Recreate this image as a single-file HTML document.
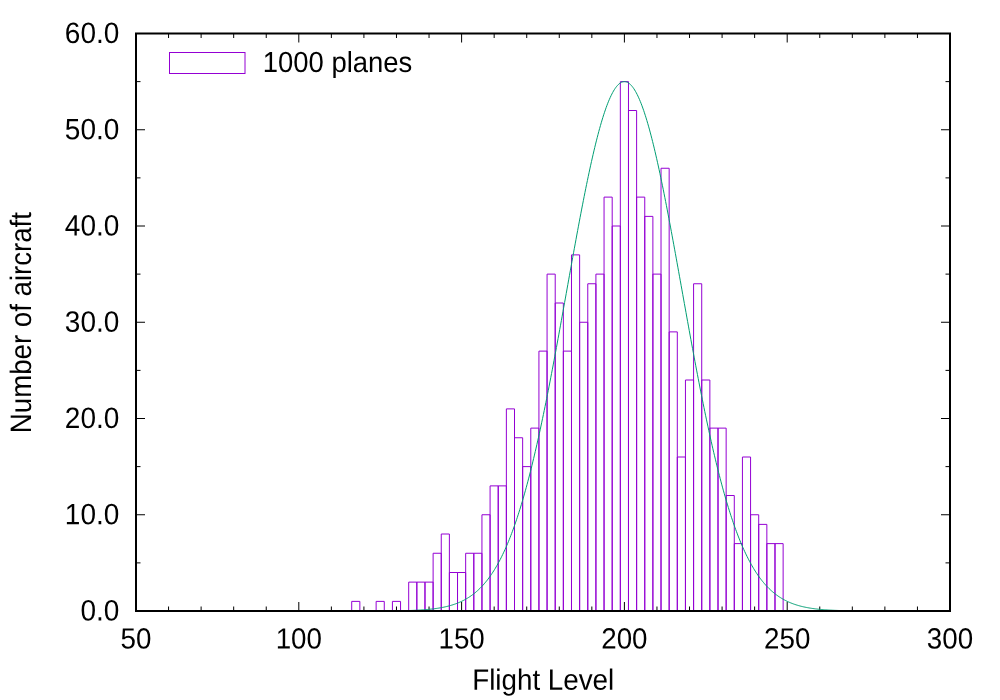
<!DOCTYPE html>
<html lang="en"><head><meta charset="utf-8"><title>Flight Level histogram</title>
<style>html,body{margin:0;padding:0;background:#fff}body{width:1000px;height:700px;overflow:hidden}svg{display:block}text{font-family:"Liberation Sans",sans-serif;font-size:28px;fill:#000}</style>
</head><body>
<svg width="1000" height="700" viewBox="0 0 1000 700">
<rect x="0" y="0" width="1000" height="700" fill="#fff"/>
<g stroke="#000" stroke-width="1" fill="none">
<path d="M136.00 611.00h9.00M950.00 611.00h-9.00"/>
<path d="M136.00 562.88h4.50M950.00 562.88h-4.50"/>
<path d="M136.00 514.75h9.00M950.00 514.75h-9.00"/>
<path d="M136.00 466.62h4.50M950.00 466.62h-4.50"/>
<path d="M136.00 418.50h9.00M950.00 418.50h-9.00"/>
<path d="M136.00 370.38h4.50M950.00 370.38h-4.50"/>
<path d="M136.00 322.25h9.00M950.00 322.25h-9.00"/>
<path d="M136.00 274.12h4.50M950.00 274.12h-4.50"/>
<path d="M136.00 226.00h9.00M950.00 226.00h-9.00"/>
<path d="M136.00 177.88h4.50M950.00 177.88h-4.50"/>
<path d="M136.00 129.75h9.00M950.00 129.75h-9.00"/>
<path d="M136.00 81.62h4.50M950.00 81.62h-4.50"/>
<path d="M136.00 33.50h9.00M950.00 33.50h-9.00"/>
<path d="M136.00 611.00v-9.00M136.00 33.50v9.00"/>
<path d="M168.56 611.00v-4.50M168.56 33.50v4.50"/>
<path d="M201.12 611.00v-4.50M201.12 33.50v4.50"/>
<path d="M233.68 611.00v-4.50M233.68 33.50v4.50"/>
<path d="M266.24 611.00v-4.50M266.24 33.50v4.50"/>
<path d="M298.80 611.00v-9.00M298.80 33.50v9.00"/>
<path d="M331.36 611.00v-4.50M331.36 33.50v4.50"/>
<path d="M363.92 611.00v-4.50M363.92 33.50v4.50"/>
<path d="M396.48 611.00v-4.50M396.48 33.50v4.50"/>
<path d="M429.04 611.00v-4.50M429.04 33.50v4.50"/>
<path d="M461.60 611.00v-9.00M461.60 33.50v9.00"/>
<path d="M494.16 611.00v-4.50M494.16 33.50v4.50"/>
<path d="M526.72 611.00v-4.50M526.72 33.50v4.50"/>
<path d="M559.28 611.00v-4.50M559.28 33.50v4.50"/>
<path d="M591.84 611.00v-4.50M591.84 33.50v4.50"/>
<path d="M624.40 611.00v-9.00M624.40 33.50v9.00"/>
<path d="M656.96 611.00v-4.50M656.96 33.50v4.50"/>
<path d="M689.52 611.00v-4.50M689.52 33.50v4.50"/>
<path d="M722.08 611.00v-4.50M722.08 33.50v4.50"/>
<path d="M754.64 611.00v-4.50M754.64 33.50v4.50"/>
<path d="M787.20 611.00v-9.00M787.20 33.50v9.00"/>
<path d="M819.76 611.00v-4.50M819.76 33.50v4.50"/>
<path d="M852.32 611.00v-4.50M852.32 33.50v4.50"/>
<path d="M884.88 611.00v-4.50M884.88 33.50v4.50"/>
<path d="M917.44 611.00v-4.50M917.44 33.50v4.50"/>
<path d="M950.00 611.00v-9.00M950.00 33.50v9.00"/>
</g>
<g text-anchor="end">
<text transform="translate(119.3,620.60) rotate(0.03) scale(1,1.055)">0.0</text>
<text transform="translate(119.3,524.35) rotate(0.03) scale(1,1.055)">10.0</text>
<text transform="translate(119.3,428.10) rotate(0.03) scale(1,1.055)">20.0</text>
<text transform="translate(119.3,331.85) rotate(0.03) scale(1,1.055)">30.0</text>
<text transform="translate(119.3,235.60) rotate(0.03) scale(1,1.055)">40.0</text>
<text transform="translate(119.3,139.35) rotate(0.03) scale(1,1.055)">50.0</text>
<text transform="translate(119.3,43.10) rotate(0.03) scale(1,1.055)">60.0</text>
</g>
<g text-anchor="middle">
<text transform="translate(136.00,648.5) rotate(0.03) scale(0.99,1.045)">50</text>
<text transform="translate(298.80,648.5) rotate(0.03) scale(0.99,1.045)">100</text>
<text transform="translate(461.60,648.5) rotate(0.03) scale(0.99,1.045)">150</text>
<text transform="translate(624.40,648.5) rotate(0.03) scale(0.99,1.045)">200</text>
<text transform="translate(787.20,648.5) rotate(0.03) scale(0.99,1.045)">250</text>
<text transform="translate(950.00,648.5) rotate(0.03) scale(0.99,1.045)">300</text>
</g>
<text transform="translate(262.8,72.0) rotate(0.03) scale(0.98,1.035)">1000 planes</text>
<rect x="169.5" y="52.5" width="75.5" height="21" fill="none" stroke="#9400d3" stroke-width="1"/>
<g fill="none" stroke="#9400d3" stroke-width="1">
<path d="M351.71 611.00V601.38H359.85V611.00Z"/>
<path d="M376.13 611.00V601.38H384.27V611.00Z"/>
<path d="M392.41 611.00V601.38H400.55V611.00Z"/>
<path d="M408.69 611.00V582.12H416.83V611.00Z"/>
<path d="M416.83 611.00V582.12H424.97V611.00Z"/>
<path d="M424.97 611.00V582.12H433.11V611.00Z"/>
<path d="M433.11 611.00V553.25H441.25V611.00Z"/>
<path d="M441.25 611.00V534.00H449.39V611.00Z"/>
<path d="M449.39 611.00V572.50H457.53V611.00Z"/>
<path d="M457.53 611.00V572.50H465.67V611.00Z"/>
<path d="M465.67 611.00V553.25H473.81V611.00Z"/>
<path d="M473.81 611.00V553.25H481.95V611.00Z"/>
<path d="M481.95 611.00V514.75H490.09V611.00Z"/>
<path d="M490.09 611.00V485.88H498.23V611.00Z"/>
<path d="M498.23 611.00V485.88H506.37V611.00Z"/>
<path d="M506.37 611.00V408.88H514.51V611.00Z"/>
<path d="M514.51 611.00V437.75H522.65V611.00Z"/>
<path d="M522.65 611.00V466.62H530.79V611.00Z"/>
<path d="M530.79 611.00V428.12H538.93V611.00Z"/>
<path d="M538.93 611.00V351.12H547.07V611.00Z"/>
<path d="M547.07 611.00V274.12H555.21V611.00Z"/>
<path d="M555.21 611.00V303.00H563.35V611.00Z"/>
<path d="M563.35 611.00V351.12H571.49V611.00Z"/>
<path d="M571.49 611.00V254.88H579.63V611.00Z"/>
<path d="M579.63 611.00V322.25H587.77V611.00Z"/>
<path d="M587.77 611.00V283.75H595.91V611.00Z"/>
<path d="M595.91 611.00V274.12H604.05V611.00Z"/>
<path d="M604.05 611.00V197.12H612.19V611.00Z"/>
<path d="M612.19 611.00V226.00H620.33V611.00Z"/>
<path d="M620.33 611.00V81.62H628.47V611.00Z"/>
<path d="M628.47 611.00V110.50H636.61V611.00Z"/>
<path d="M636.61 611.00V197.12H644.75V611.00Z"/>
<path d="M644.75 611.00V216.38H652.89V611.00Z"/>
<path d="M652.89 611.00V274.12H661.03V611.00Z"/>
<path d="M661.03 611.00V168.25H669.17V611.00Z"/>
<path d="M669.17 611.00V331.88H677.31V611.00Z"/>
<path d="M677.31 611.00V457.00H685.45V611.00Z"/>
<path d="M685.45 611.00V380.00H693.59V611.00Z"/>
<path d="M693.59 611.00V283.75H701.73V611.00Z"/>
<path d="M701.73 611.00V380.00H709.87V611.00Z"/>
<path d="M709.87 611.00V428.12H718.01V611.00Z"/>
<path d="M718.01 611.00V428.12H726.15V611.00Z"/>
<path d="M726.15 611.00V495.50H734.29V611.00Z"/>
<path d="M734.29 611.00V543.62H742.43V611.00Z"/>
<path d="M742.43 611.00V457.00H750.57V611.00Z"/>
<path d="M750.57 611.00V514.75H758.71V611.00Z"/>
<path d="M758.71 611.00V524.38H766.85V611.00Z"/>
<path d="M766.85 611.00V543.62H774.99V611.00Z"/>
<path d="M774.99 611.00V543.62H783.13V611.00Z"/>
</g>
<polyline fill="none" stroke="#009e73" stroke-width="1" stroke-linejoin="round" points="136.00,611.00 136.81,611.00 137.63,611.00 138.44,611.00 139.26,611.00 140.07,611.00 140.89,611.00 141.70,611.00 142.52,611.00 143.33,611.00 144.15,611.00 144.96,611.00 145.78,611.00 146.59,611.00 147.41,611.00 148.22,611.00 149.04,611.00 149.85,611.00 150.67,611.00 151.48,611.00 152.30,611.00 153.11,611.00 153.93,611.00 154.74,611.00 155.56,611.00 156.37,611.00 157.19,611.00 158.00,611.00 158.81,611.00 159.63,611.00 160.44,611.00 161.26,611.00 162.07,611.00 162.89,611.00 163.70,611.00 164.52,611.00 165.33,611.00 166.15,611.00 166.96,611.00 167.78,611.00 168.59,611.00 169.41,611.00 170.22,611.00 171.04,611.00 171.85,611.00 172.67,611.00 173.48,611.00 174.30,611.00 175.11,611.00 175.93,611.00 176.74,611.00 177.56,611.00 178.37,611.00 179.19,611.00 180.00,611.00 180.81,611.00 181.63,611.00 182.44,611.00 183.26,611.00 184.07,611.00 184.89,611.00 185.70,611.00 186.52,611.00 187.33,611.00 188.15,611.00 188.96,611.00 189.78,611.00 190.59,611.00 191.41,611.00 192.22,611.00 193.04,611.00 193.85,611.00 194.67,611.00 195.48,611.00 196.30,611.00 197.11,611.00 197.93,611.00 198.74,611.00 199.56,611.00 200.37,611.00 201.19,611.00 202.00,611.00 202.81,611.00 203.63,611.00 204.44,611.00 205.26,611.00 206.07,611.00 206.89,611.00 207.70,611.00 208.52,611.00 209.33,611.00 210.15,611.00 210.96,611.00 211.78,611.00 212.59,611.00 213.41,611.00 214.22,611.00 215.04,611.00 215.85,611.00 216.67,611.00 217.48,611.00 218.30,611.00 219.11,611.00 219.93,611.00 220.74,611.00 221.56,611.00 222.37,611.00 223.19,611.00 224.00,611.00 224.81,611.00 225.63,611.00 226.44,611.00 227.26,611.00 228.07,611.00 228.89,611.00 229.70,611.00 230.52,611.00 231.33,611.00 232.15,611.00 232.96,611.00 233.78,611.00 234.59,611.00 235.41,611.00 236.22,611.00 237.04,611.00 237.85,611.00 238.67,611.00 239.48,611.00 240.30,611.00 241.11,611.00 241.93,611.00 242.74,611.00 243.56,611.00 244.37,611.00 245.19,611.00 246.00,611.00 246.81,611.00 247.63,611.00 248.44,611.00 249.26,611.00 250.07,611.00 250.89,611.00 251.70,611.00 252.52,611.00 253.33,611.00 254.15,611.00 254.96,611.00 255.78,611.00 256.59,611.00 257.41,611.00 258.22,611.00 259.04,611.00 259.85,611.00 260.67,611.00 261.48,611.00 262.30,611.00 263.11,611.00 263.93,611.00 264.74,611.00 265.56,611.00 266.37,611.00 267.19,611.00 268.00,611.00 268.81,611.00 269.63,611.00 270.44,611.00 271.26,611.00 272.07,611.00 272.89,611.00 273.70,611.00 274.52,611.00 275.33,611.00 276.15,611.00 276.96,611.00 277.78,611.00 278.59,611.00 279.41,611.00 280.22,611.00 281.04,611.00 281.85,611.00 282.67,611.00 283.48,611.00 284.30,611.00 285.11,611.00 285.93,611.00 286.74,611.00 287.56,611.00 288.37,611.00 289.19,611.00 290.00,611.00 290.81,611.00 291.63,611.00 292.44,611.00 293.26,611.00 294.07,611.00 294.89,611.00 295.70,611.00 296.52,611.00 297.33,611.00 298.15,611.00 298.96,611.00 299.78,611.00 300.59,611.00 301.41,611.00 302.22,611.00 303.04,611.00 303.85,611.00 304.67,611.00 305.48,611.00 306.30,611.00 307.11,611.00 307.93,611.00 308.74,611.00 309.56,611.00 310.37,611.00 311.19,611.00 312.00,611.00 312.81,611.00 313.63,611.00 314.44,611.00 315.26,611.00 316.07,611.00 316.89,611.00 317.70,611.00 318.52,611.00 319.33,611.00 320.15,611.00 320.96,611.00 321.78,611.00 322.59,611.00 323.41,611.00 324.22,611.00 325.04,611.00 325.85,611.00 326.67,611.00 327.48,611.00 328.30,611.00 329.11,611.00 329.93,611.00 330.74,611.00 331.56,611.00 332.37,611.00 333.19,611.00 334.00,611.00 334.81,611.00 335.63,611.00 336.44,611.00 337.26,611.00 338.07,611.00 338.89,611.00 339.70,611.00 340.52,611.00 341.33,611.00 342.15,611.00 342.96,611.00 343.78,611.00 344.59,611.00 345.41,611.00 346.22,611.00 347.04,611.00 347.85,610.99 348.67,610.99 349.48,610.99 350.30,610.99 351.11,610.99 351.93,610.99 352.74,610.99 353.56,610.99 354.37,610.99 355.19,610.99 356.00,610.99 356.81,610.99 357.63,610.99 358.44,610.99 359.26,610.99 360.07,610.99 360.89,610.99 361.70,610.98 362.52,610.98 363.33,610.98 364.15,610.98 364.96,610.98 365.78,610.98 366.59,610.98 367.41,610.98 368.22,610.97 369.04,610.97 369.85,610.97 370.67,610.97 371.48,610.97 372.30,610.96 373.11,610.96 373.93,610.96 374.74,610.96 375.56,610.95 376.37,610.95 377.19,610.95 378.00,610.94 378.81,610.94 379.63,610.94 380.44,610.93 381.26,610.93 382.07,610.93 382.89,610.92 383.70,610.92 384.52,610.91 385.33,610.91 386.15,610.90 386.96,610.89 387.78,610.89 388.59,610.88 389.41,610.87 390.22,610.87 391.04,610.86 391.85,610.85 392.67,610.84 393.48,610.83 394.30,610.82 395.11,610.81 395.93,610.80 396.74,610.79 397.56,610.78 398.37,610.76 399.19,610.75 400.00,610.74 400.81,610.72 401.63,610.71 402.44,610.69 403.26,610.67 404.07,610.65 404.89,610.63 405.70,610.61 406.52,610.59 407.33,610.57 408.15,610.55 408.96,610.52 409.78,610.50 410.59,610.47 411.41,610.44 412.22,610.41 413.04,610.38 413.85,610.35 414.67,610.31 415.48,610.27 416.30,610.24 417.11,610.20 417.93,610.15 418.74,610.11 419.56,610.06 420.37,610.02 421.19,609.97 422.00,609.91 422.81,609.86 423.63,609.80 424.44,609.74 425.26,609.68 426.07,609.61 426.89,609.54 427.70,609.47 428.52,609.39 429.33,609.31 430.15,609.23 430.96,609.14 431.78,609.05 432.59,608.96 433.41,608.86 434.22,608.76 435.04,608.65 435.85,608.54 436.67,608.42 437.48,608.30 438.30,608.17 439.11,608.04 439.93,607.90 440.74,607.76 441.56,607.61 442.37,607.45 443.19,607.29 444.00,607.12 444.81,606.94 445.63,606.76 446.44,606.57 447.26,606.37 448.07,606.17 448.89,605.95 449.70,605.73 450.52,605.50 451.33,605.26 452.15,605.01 452.96,604.75 453.78,604.48 454.59,604.21 455.41,603.92 456.22,603.62 457.04,603.30 457.85,602.98 458.67,602.65 459.48,602.30 460.30,601.94 461.11,601.57 461.93,601.18 462.74,600.78 463.56,600.37 464.37,599.94 465.19,599.50 466.00,599.04 466.81,598.56 467.63,598.07 468.44,597.57 469.26,597.04 470.07,596.50 470.89,595.94 471.70,595.36 472.52,594.76 473.33,594.15 474.15,593.51 474.96,592.85 475.78,592.18 476.59,591.48 477.41,590.75 478.22,590.01 479.04,589.24 479.85,588.45 480.67,587.64 481.48,586.80 482.30,585.94 483.11,585.05 483.93,584.13 484.74,583.19 485.56,582.22 486.37,581.22 487.19,580.19 488.00,579.14 488.81,578.05 489.63,576.94 490.44,575.79 491.26,574.62 492.07,573.41 492.89,572.17 493.70,570.90 494.52,569.59 495.33,568.25 496.15,566.87 496.96,565.46 497.78,564.01 498.59,562.53 499.41,561.01 500.22,559.46 501.04,557.86 501.85,556.23 502.67,554.56 503.48,552.84 504.30,551.09 505.11,549.30 505.93,547.47 506.74,545.60 507.56,543.68 508.37,541.72 509.19,539.72 510.00,537.68 510.81,535.59 511.63,533.46 512.44,531.29 513.26,529.07 514.07,526.81 514.89,524.50 515.70,522.14 516.52,519.74 517.33,517.30 518.15,514.80 518.96,512.26 519.78,509.68 520.59,507.05 521.41,504.37 522.22,501.64 523.04,498.86 523.85,496.04 524.67,493.17 525.48,490.26 526.30,487.29 527.11,484.28 527.93,481.22 528.74,478.12 529.56,474.97 530.37,471.77 531.19,468.52 532.00,465.23 532.81,461.89 533.63,458.50 534.44,455.07 535.26,451.60 536.07,448.08 536.89,444.51 537.70,440.91 538.52,437.25 539.33,433.56 540.15,429.82 540.96,426.05 541.78,422.23 542.59,418.37 543.41,414.47 544.22,410.53 545.04,406.56 545.85,402.54 546.67,398.49 547.48,394.41 548.30,390.29 549.11,386.14 549.93,381.96 550.74,377.74 551.56,373.50 552.37,369.23 553.19,364.93 554.00,360.60 554.81,356.25 555.63,351.87 556.44,347.48 557.26,343.06 558.07,338.62 558.89,334.16 559.70,329.69 560.52,325.20 561.33,320.70 562.15,316.19 562.96,311.67 563.78,307.14 564.59,302.60 565.41,298.06 566.22,293.51 567.04,288.97 567.85,284.42 568.67,279.87 569.48,275.33 570.30,270.80 571.11,266.27 571.93,261.76 572.74,257.25 573.56,252.76 574.37,248.28 575.19,243.83 576.00,239.39 576.81,234.97 577.63,230.58 578.44,226.21 579.26,221.88 580.07,217.57 580.89,213.29 581.70,209.05 582.52,204.84 583.33,200.67 584.15,196.55 584.96,192.46 585.78,188.42 586.59,184.43 587.41,180.48 588.22,176.59 589.04,172.75 589.85,168.96 590.67,165.23 591.48,161.56 592.30,157.94 593.11,154.40 593.93,150.91 594.74,147.49 595.56,144.14 596.37,140.86 597.19,137.66 598.00,134.52 598.81,131.46 599.63,128.48 600.44,125.58 601.26,122.76 602.07,120.02 602.89,117.36 603.70,114.79 604.52,112.31 605.33,109.91 606.15,107.60 606.96,105.39 607.78,103.26 608.59,101.23 609.41,99.30 610.22,97.46 611.04,95.71 611.85,94.07 612.67,92.52 613.48,91.07 614.30,89.73 615.11,88.48 615.93,87.34 616.74,86.30 617.56,85.36 618.37,84.52 619.19,83.80 620.00,83.17 620.81,82.65 621.63,82.24 622.44,81.93 623.26,81.73 624.07,81.63 624.89,81.64 625.70,81.76 626.52,81.98 627.33,82.31 628.15,82.75 628.96,83.29 629.78,83.93 630.59,84.68 631.41,85.54 632.22,86.50 633.04,87.56 633.85,88.72 634.67,89.99 635.48,91.35 636.30,92.82 637.11,94.39 637.93,96.05 638.74,97.82 639.56,99.68 640.37,101.63 641.19,103.68 642.00,105.82 642.81,108.06 643.63,110.38 644.44,112.80 645.26,115.30 646.07,117.89 646.89,120.56 647.70,123.32 648.52,126.15 649.33,129.07 650.15,132.07 650.96,135.14 651.78,138.29 652.59,141.51 653.41,144.81 654.22,148.17 655.04,151.60 655.85,155.10 656.67,158.66 657.48,162.29 658.30,165.97 659.11,169.71 659.93,173.51 660.74,177.36 661.56,181.27 662.37,185.22 663.19,189.23 664.00,193.28 664.81,197.37 665.63,201.50 666.44,205.68 667.26,209.89 668.07,214.14 668.89,218.43 669.70,222.74 670.52,227.09 671.33,231.46 672.15,235.85 672.96,240.28 673.78,244.72 674.59,249.18 675.41,253.66 676.22,258.15 677.04,262.66 677.85,267.18 678.67,271.71 679.48,276.24 680.30,280.78 681.11,285.33 681.93,289.88 682.74,294.42 683.56,298.97 684.37,303.51 685.19,308.05 686.00,312.57 686.81,317.10 687.63,321.61 688.44,326.10 689.26,330.59 690.07,335.06 690.89,339.51 691.70,343.94 692.52,348.36 693.33,352.75 694.15,357.12 694.96,361.47 695.78,365.79 696.59,370.08 697.41,374.35 698.22,378.59 699.04,382.80 699.85,386.98 700.67,391.12 701.48,395.23 702.30,399.31 703.11,403.35 703.93,407.35 704.74,411.32 705.56,415.25 706.37,419.14 707.19,422.99 708.00,426.80 708.81,430.57 709.63,434.30 710.44,437.99 711.26,441.63 712.07,445.23 712.89,448.79 713.70,452.30 714.52,455.76 715.33,459.18 716.15,462.56 716.96,465.89 717.78,469.17 718.59,472.41 719.41,475.60 720.22,478.74 721.04,481.84 721.85,484.89 722.67,487.89 723.48,490.84 724.30,493.75 725.11,496.61 725.93,499.42 726.74,502.19 727.56,504.90 728.37,507.58 729.19,510.20 730.00,512.78 730.81,515.31 731.63,517.79 732.44,520.23 733.26,522.62 734.07,524.96 734.89,527.26 735.70,529.52 736.52,531.73 737.33,533.89 738.15,536.02 738.96,538.09 739.78,540.13 740.59,542.12 741.41,544.07 742.22,545.97 743.04,547.84 743.85,549.66 744.67,551.45 745.48,553.19 746.30,554.89 747.11,556.56 747.93,558.18 748.74,559.77 749.56,561.32 750.37,562.83 751.19,564.31 752.00,565.75 752.81,567.15 753.63,568.52 754.44,569.85 755.26,571.15 756.07,572.42 756.89,573.65 757.70,574.86 758.52,576.03 759.33,577.17 760.15,578.27 760.96,579.35 761.78,580.40 762.59,581.42 763.41,582.41 764.22,583.38 765.04,584.32 765.85,585.23 766.67,586.11 767.48,586.97 768.30,587.80 769.11,588.61 769.93,589.40 770.74,590.16 771.56,590.90 772.37,591.62 773.19,592.31 774.00,592.99 774.81,593.64 775.63,594.27 776.44,594.89 777.26,595.48 778.07,596.05 778.89,596.61 779.70,597.15 780.52,597.67 781.33,598.17 782.15,598.66 782.96,599.13 783.78,599.59 784.59,600.03 785.41,600.45 786.22,600.86 787.04,601.26 787.85,601.64 788.67,602.01 789.48,602.37 790.30,602.71 791.11,603.05 791.93,603.37 792.74,603.68 793.56,603.97 794.37,604.26 795.19,604.54 796.00,604.81 796.81,605.06 797.63,605.31 798.44,605.55 799.26,605.78 800.07,606.00 800.89,606.21 801.70,606.41 802.52,606.61 803.33,606.80 804.15,606.98 804.96,607.15 805.78,607.32 806.59,607.48 807.41,607.64 808.22,607.79 809.04,607.93 809.85,608.07 810.67,608.20 811.48,608.32 812.30,608.44 813.11,608.56 813.93,608.67 814.74,608.78 815.56,608.88 816.37,608.98 817.19,609.07 818.00,609.16 818.81,609.25 819.63,609.33 820.44,609.41 821.26,609.48 822.07,609.55 822.89,609.62 823.70,609.69 824.52,609.75 825.33,609.81 826.15,609.87 826.96,609.92 827.78,609.98 828.59,610.03 829.41,610.07 830.22,610.12 831.04,610.16 831.85,610.20 832.67,610.24 833.48,610.28 834.30,610.32 835.11,610.35 835.93,610.39 836.74,610.42 837.56,610.45 838.37,610.47 839.19,610.50 840.00,610.53 840.81,610.55 841.63,610.58 842.44,610.60 843.26,610.62 844.07,610.64 844.89,610.66 845.70,610.68 846.52,610.69 847.33,610.71 848.15,610.72 848.96,610.74 849.78,610.75 850.59,610.77 851.41,610.78 852.22,610.79 853.04,610.80 853.85,610.81 854.67,610.82 855.48,610.83 856.30,610.84 857.11,610.85 857.93,610.86 858.74,610.87 859.56,610.88 860.37,610.88 861.19,610.89 862.00,610.90 862.81,610.90 863.63,610.91 864.44,610.91 865.26,610.92 866.07,610.92 866.89,610.93 867.70,610.93 868.52,610.93 869.33,610.94 870.15,610.94 870.96,610.95 871.78,610.95 872.59,610.95 873.41,610.95 874.22,610.96 875.04,610.96 875.85,610.96 876.67,610.96 877.48,610.97 878.30,610.97 879.11,610.97 879.93,610.97 880.74,610.97 881.56,610.98 882.37,610.98 883.19,610.98 884.00,610.98 884.81,610.98 885.63,610.98 886.44,610.98 887.26,610.98 888.07,610.99 888.89,610.99 889.70,610.99 890.52,610.99 891.33,610.99 892.15,610.99 892.96,610.99 893.78,610.99 894.59,610.99 895.41,610.99 896.22,610.99 897.04,610.99 897.85,610.99 898.67,610.99 899.48,610.99 900.30,610.99 901.11,610.99 901.93,611.00 902.74,611.00 903.56,611.00 904.37,611.00 905.19,611.00 906.00,611.00 906.81,611.00 907.63,611.00 908.44,611.00 909.26,611.00 910.07,611.00 910.89,611.00 911.70,611.00 912.52,611.00 913.33,611.00 914.15,611.00 914.96,611.00 915.78,611.00 916.59,611.00 917.41,611.00 918.22,611.00 919.04,611.00 919.85,611.00 920.67,611.00 921.48,611.00 922.30,611.00 923.11,611.00 923.93,611.00 924.74,611.00 925.56,611.00 926.37,611.00 927.19,611.00 928.00,611.00 928.81,611.00 929.63,611.00 930.44,611.00 931.26,611.00 932.07,611.00 932.89,611.00 933.70,611.00 934.52,611.00 935.33,611.00 936.15,611.00 936.96,611.00 937.78,611.00 938.59,611.00 939.41,611.00 940.22,611.00 941.04,611.00 941.85,611.00 942.67,611.00 943.48,611.00 944.30,611.00 945.11,611.00 945.93,611.00 946.74,611.00 947.56,611.00 948.37,611.00 949.19,611.00 950.00,611.00"/>
<rect x="136.00" y="33.50" width="814.00" height="577.50" fill="none" stroke="#000" stroke-width="2"/>
<text transform="translate(543.2,689.7) rotate(0.03) scale(0.992,1.05)" text-anchor="middle">Flight Level</text>
<text transform="translate(31,322.6) rotate(-89.97) scale(0.987,1.055)" text-anchor="middle">Number of aircraft</text>
</svg></body></html>
